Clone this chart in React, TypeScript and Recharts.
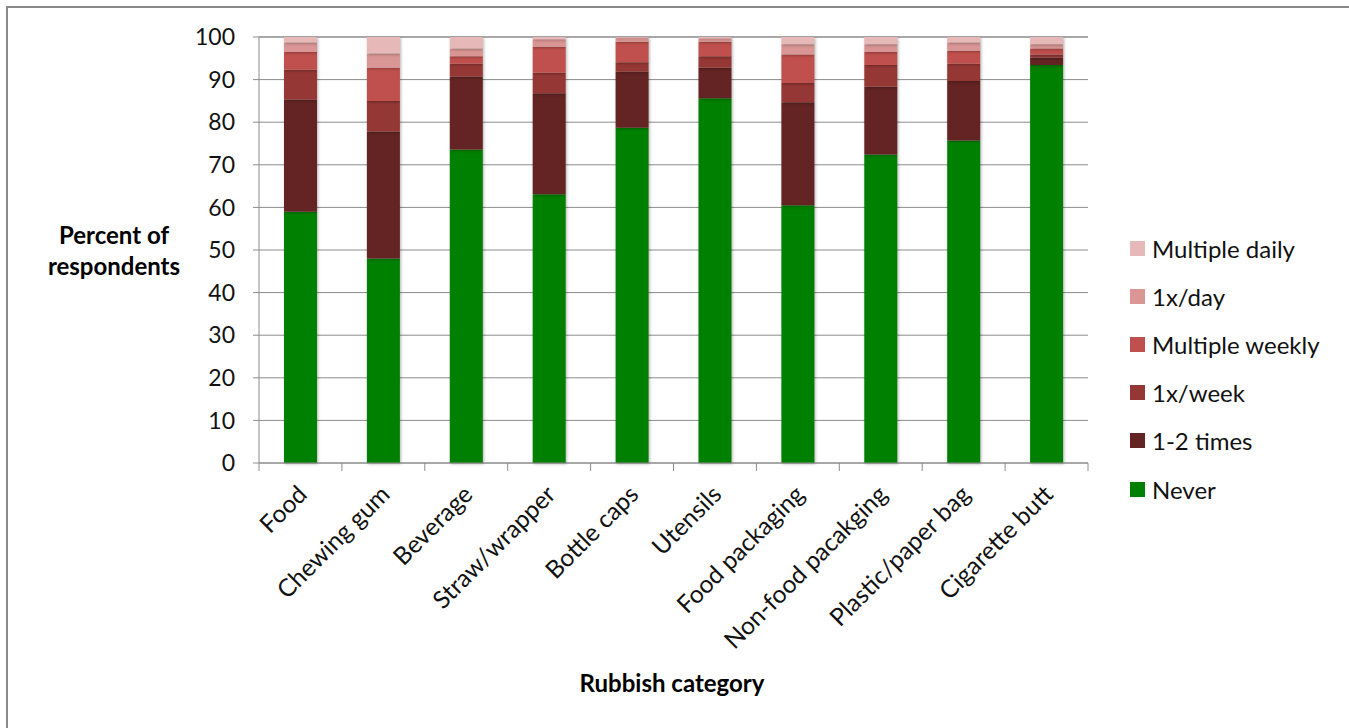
import { Bar, BarChart, CartesianGrid, Legend, XAxis, YAxis } from "recharts";

const categories = [
  "Food",
  "Chewing gum",
  "Beverage",
  "Straw/wrapper",
  "Bottle caps",
  "Utensils",
  "Food packaging",
  "Non-food pacakging",
  "Plastic/paper bag",
  "Cigarette butt",
];

// percent of respondents per answer, bottom of the stack first
const never = [59, 48, 73.6, 63.1, 78.7, 85.6, 60.5, 72.4, 75.7, 93.4];
const oneToTwo = [26.3, 29.8, 17.1, 23.7, 13.2, 7.2, 24.2, 15.9, 14, 1.8];
const oncePerWeek = [7, 7.2, 3, 4.8, 2.2, 2.7, 4.5, 5.1, 4, 0.7];
const multipleWeekly = [4.2, 7.8, 1.8, 6.1, 4.8, 3.4, 6.7, 3.1, 3.1, 1.4];
const oncePerDay = [2.2, 3.3, 1.8, 1.8, 0.9, 0.8, 2.4, 1.8, 1.9, 1.0];
const multipleDaily = [1.3, 3.9, 2.7, 0.5, 0.2, 0.3, 1.7, 1.7, 1.3, 1.7];

const yTicks = [0, 10, 20, 30, 40, 50, 60, 70, 80, 90, 100];

const series = [
  { key: "never", name: "Never", values: never, color: "#008000" },
  { key: "oneToTwo", name: "1-2 times", values: oneToTwo, color: "#632423" },
  { key: "oncePerWeek", name: "1x/week", values: oncePerWeek, color: "#953735" },
  { key: "multipleWeekly", name: "Multiple weekly", values: multipleWeekly, color: "#c0504d" },
  { key: "oncePerDay", name: "1x/day", values: oncePerDay, color: "#d99694" },
  { key: "multipleDaily", name: "Multiple daily", values: multipleDaily, color: "#e6b9b8" },
];

const data = categories.map((name, i) => {
  const row: Record<string, string | number> = { name };
  series.forEach((s) => {
    row[s.key] = s.values[i];
  });
  return row;
});

const FONT = "Lato, 'Open Sans', sans-serif";
const WIDTH = 1349;
const HEIGHT = 728;
const PLOT_LEFT = 259;
const PLOT_RIGHT = 1088;
const PLOT_TOP = 37;
const PLOT_BOTTOM = 463;
const LEGEND_WIDTH = 219;
const BAND = (PLOT_RIGHT - PLOT_LEFT) / categories.length;
const AXIS_COLOR = "#8c8c8c";

function CategoryTick(props: any) {
  const { x, payload, index } = props;
  const half = BAND / 2;
  return (
    <g>
      <line x1={x - half} x2={x - half} y1={PLOT_BOTTOM} y2={PLOT_BOTTOM + 8} stroke={AXIS_COLOR} />
      {index === categories.length - 1 && (
        <line x1={x + half} x2={x + half} y1={PLOT_BOTTOM} y2={PLOT_BOTTOM + 8} stroke={AXIS_COLOR} />
      )}
      <text
        transform={`translate(${x + 8},${PLOT_BOTTOM + 33}) rotate(-45)`}
        textAnchor="end"
        fontFamily={FONT}
        fontSize={24.5}
        fill="#111"
      >
        {payload.value}
      </text>
    </g>
  );
}

// legend lists the series top of stack first, in our own order
function LegendBox() {
  return (
    <div style={{ fontFamily: FONT, fontSize: 24, color: "#111" }}>
      {[...series].reverse().map((s) => (
        <div
          key={s.key}
          style={{ display: "flex", alignItems: "center", height: 48.2, whiteSpace: "nowrap" }}
        >
          <span
            style={{
              width: 15,
              height: 15,
              background: s.color,
              display: "inline-block",
              marginRight: 7,
            }}
          />
          {s.name}
        </div>
      ))}
    </div>
  );
}

export default function App() {
  return (
    <div style={{ position: "fixed", left: 0, top: 0, width: WIDTH, height: HEIGHT, background: "#fff" }}>
      <style>{`.recharts-bar-rectangles { filter: drop-shadow(1px 1px 1.5px rgba(0,0,0,0.3)); }`}</style>
      <div
        style={{
          position: "fixed",
          left: 6,
          top: 6,
          width: 1500,
          height: 900,
          border: "2px solid #8a8a8a",
          boxSizing: "border-box",
        }}
      />
      <BarChart
        width={WIDTH}
        height={HEIGHT}
        data={data}
        margin={{ top: PLOT_TOP, right: WIDTH - PLOT_RIGHT - LEGEND_WIDTH, left: 0, bottom: 0 }}
        barSize={33}
        style={{ position: "absolute", left: 0, top: 0 }}
      >
        <CartesianGrid vertical={false} stroke={AXIS_COLOR} />
        <XAxis
          dataKey="name"
          interval={0}
          height={HEIGHT - PLOT_BOTTOM}
          tickLine={false}
          axisLine={{ stroke: AXIS_COLOR }}
          tick={<CategoryTick />}
        />
        <YAxis
          width={PLOT_LEFT}
          domain={[0, 100]}
          ticks={yTicks}
          interval={0}
          tickSize={6}
          tickMargin={18}
          axisLine={{ stroke: AXIS_COLOR }}
          tickLine={{ stroke: AXIS_COLOR }}
          tick={{ fontFamily: FONT, fontSize: 23, fill: "#111" }}
        />
        <Legend
          verticalAlign="top"
          align="right"
          layout="vertical"
          content={<LegendBox />}
          wrapperStyle={{ position: "absolute", left: 1130, top: 224, width: LEGEND_WIDTH }}
        />
        {series.map((s) => (
          <Bar
            key={s.key}
            dataKey={s.key}
            name={s.name}
            stackId="freq"
            fill={s.color}
            isAnimationActive={false}
          />
        ))}
        <text fontFamily={FONT} fontSize={24} fontWeight={700} fill="#000" textAnchor="middle">
          <tspan x={114} y={244}>Percent of</tspan>
          <tspan x={114} y={275}>respondents</tspan>
        </text>
        <text x={672} y={692} fontFamily={FONT} fontSize={24} fontWeight={700} fill="#000" textAnchor="middle">
          Rubbish category
        </text>
      </BarChart>
    </div>
  );
}
